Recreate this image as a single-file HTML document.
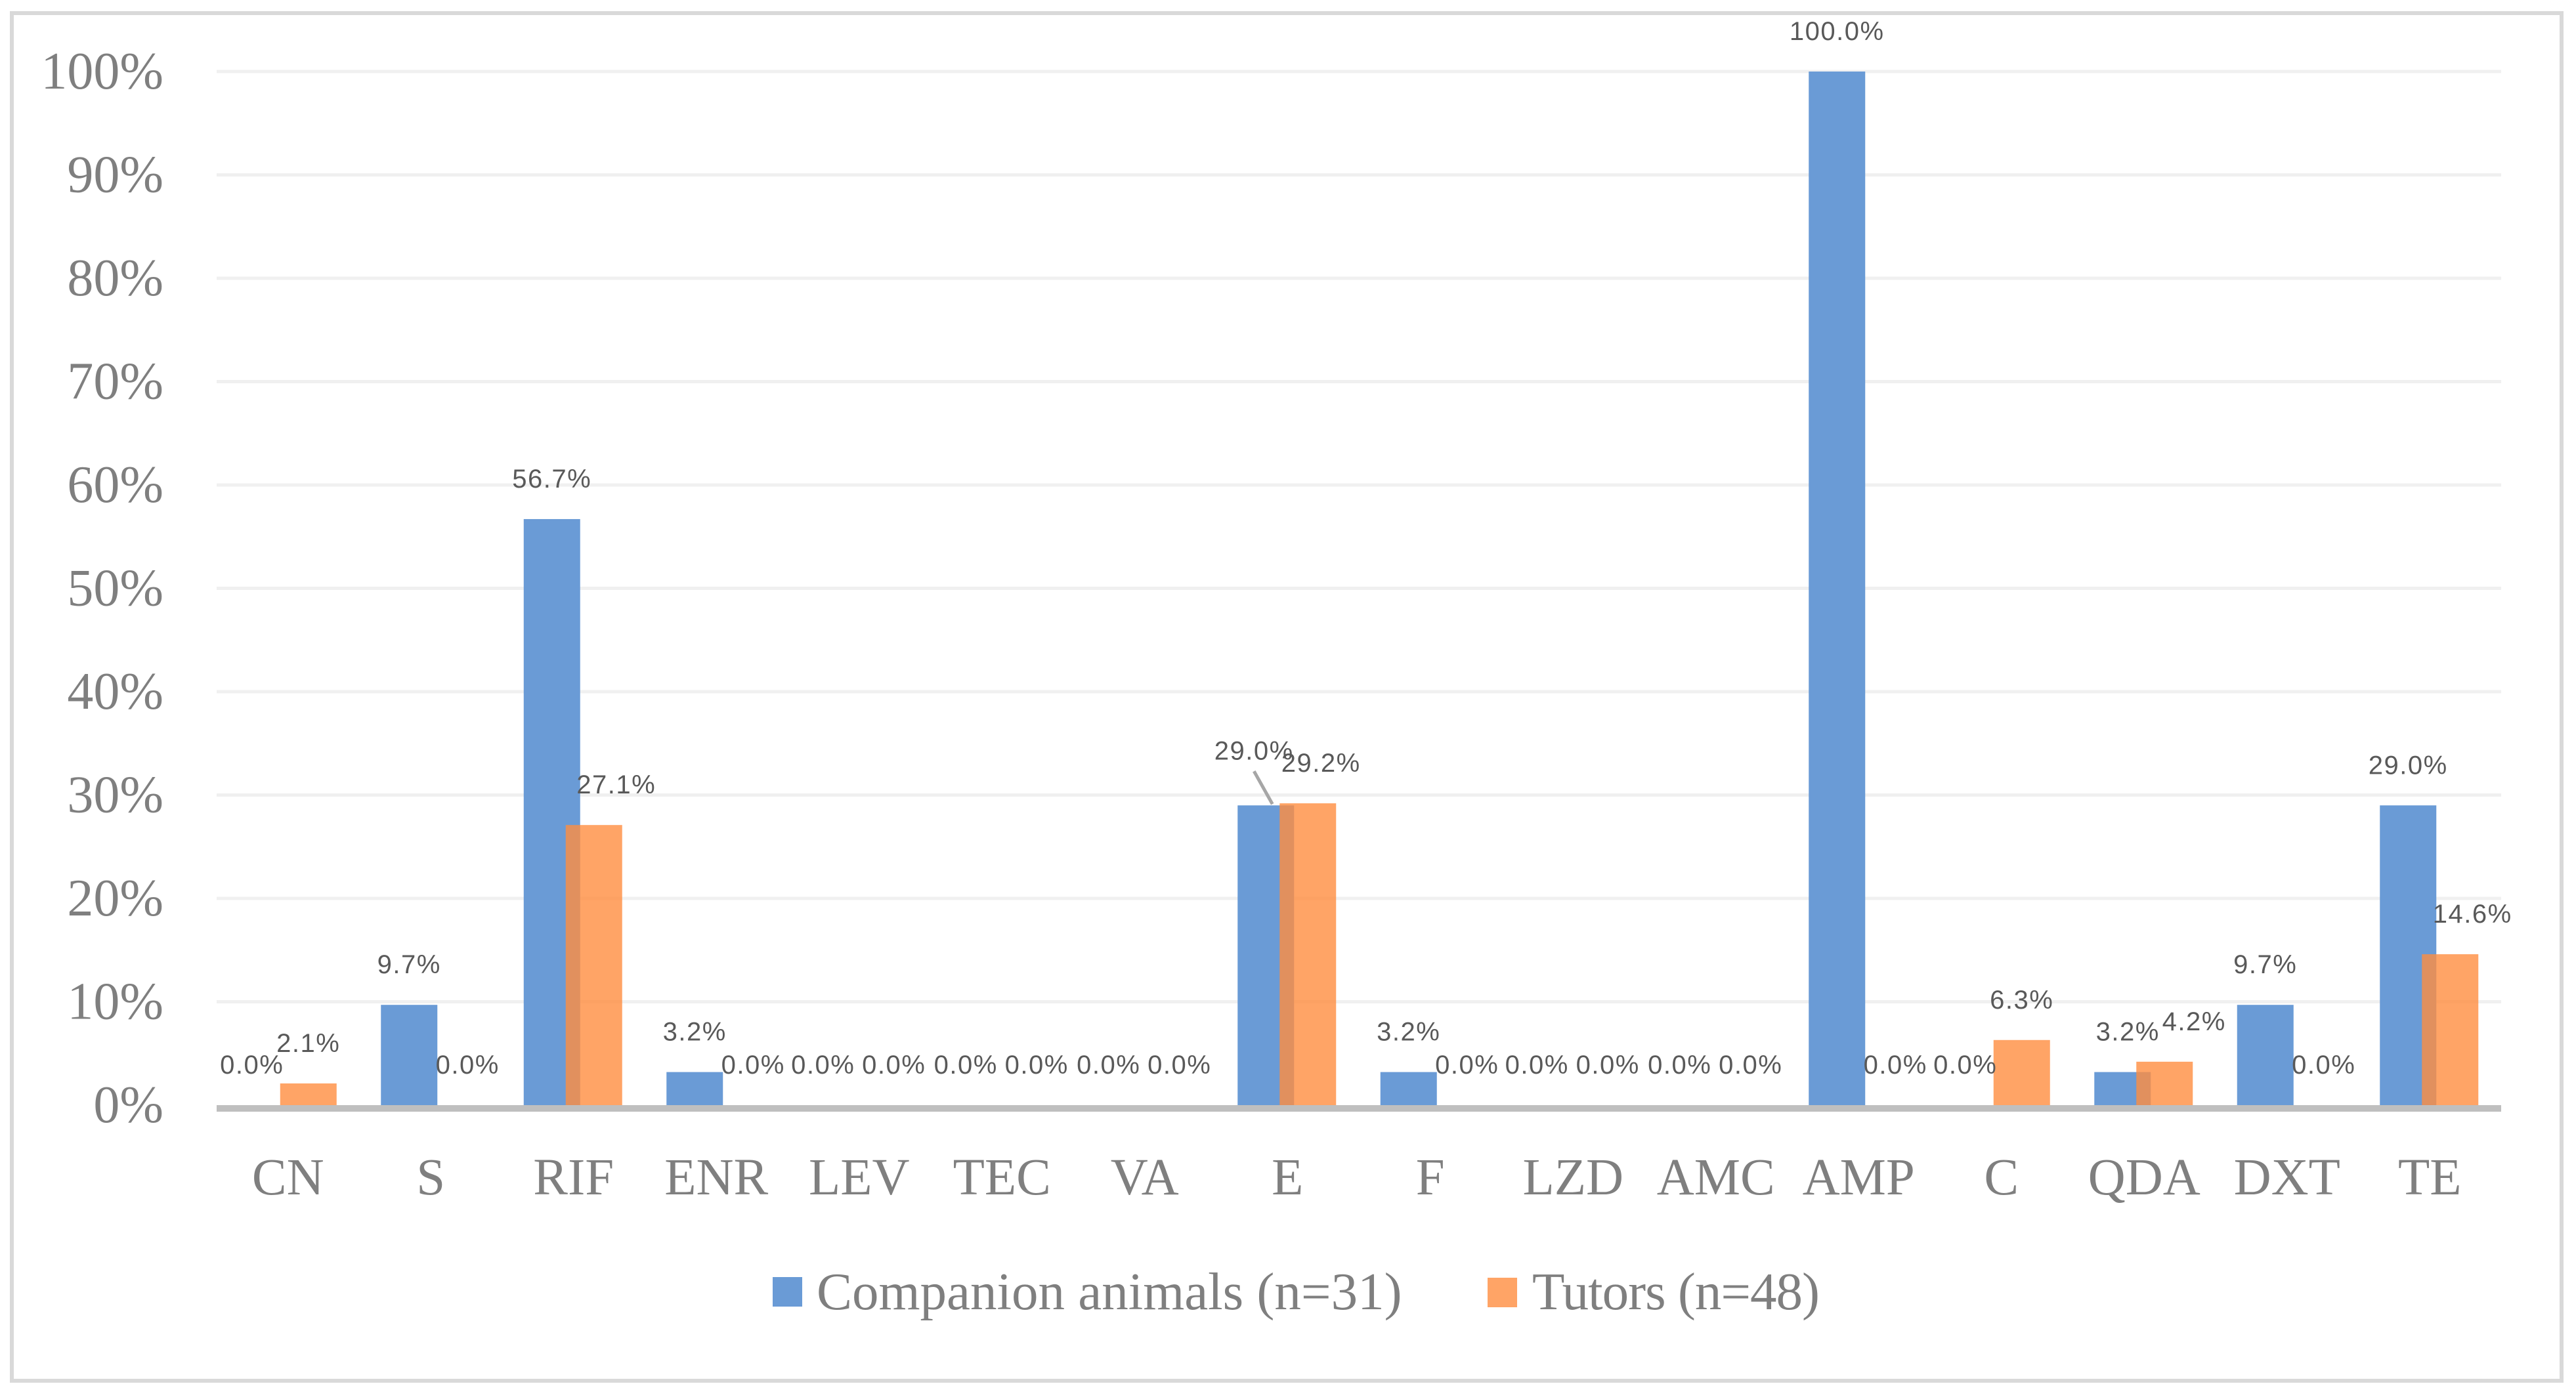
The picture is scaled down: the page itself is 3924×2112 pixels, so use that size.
<!DOCTYPE html>
<html><head><meta charset="utf-8"><style>
html,body{margin:0;padding:0;background:#fff;}
svg{display:block;}
</style></head><body>
<svg id="chart" width="3924" height="2112" viewBox="0 0 3924 2112" xmlns="http://www.w3.org/2000/svg">
<rect x="18" y="20" width="3884" height="2084" fill="#fff" stroke="#d9d9d9" stroke-width="6"/>
<g id="grid"></g>
<g id="yticks"></g>
<g id="bars"></g>
<line x1="330" y1="1689" x2="3810" y2="1689" stroke="#bfbfbf" stroke-width="10"/>
<g id="labels"></g>
<g id="xcats"></g>
<g font-family="Liberation Serif, serif" font-size="81" fill="#7f7f7f">
  <rect x="1177" y="1946" width="45" height="45" fill="#6a9bd6"/>
  <text x="1244" y="1995">Companion animals (n=31)</text>
  <rect x="2266" y="1947" width="45" height="45" fill="#ffa466"/>
  <text x="2334" y="1995" textLength="438">Tutors (n=48)</text>
</g>
</svg>
<script>
const categories = ["CN","S","RIF","ENR","LEV","TEC","VA","E","F","LZD","AMC","AMP","C","QDA","DXT","TE"];
const companionValues = [0,9.7,56.7,3.2,0,0,0,29.0,3.2,0,0,100,0,3.2,9.7,29.0];
const tutorValues = [2.1,0,27.1,0,0,0,0,29.2,0,0,0,0,6.3,4.2,0,14.6];
const yTicks = [0,10,20,30,40,50,60,70,80,90,100];

const NS = "http://www.w3.org/2000/svg";
const plotL = 330, plotR = 3810, y0 = 1684, y100 = 109;
const band = (plotR - plotL) / categories.length;
function yScale(v){ return y0 - (v/100)*(y0 - y100); }
function xCenter(i){ return plotL + band*(i+0.5); }
function mk(tag, attrs, parent){ const e=document.createElementNS(NS,tag); for(const k in attrs) e.setAttribute(k, attrs[k]); parent.appendChild(e); return e; }

const grid=document.getElementById('grid'), yt=document.getElementById('yticks'),
 bars=document.getElementById('bars'), labels=document.getElementById('labels'), xc=document.getElementById('xcats');

yTicks.forEach(t=>{
  const y=yScale(t);
  if(t>0){
    const l=mk('line',{x1:plotL,x2:plotR,y1:y,y2:y,stroke:'#f0f0f0','stroke-width':5},grid);
    
    
  }
  const tx=mk('text',{x:249,y:y+26,'text-anchor':'end','font-family':'Liberation Serif, serif','font-size':80,fill:'#7f7f7f'},yt);
  tx.textContent=t+'%';
  
  
});

const bw=86;
const lblAttrs={'text-anchor':'middle','font-family':'Liberation Sans, sans-serif','font-size':40,'letter-spacing':1.5,fill:'#595959'};
categories.forEach((c,i)=>{
  const cx=xCenter(i);
  const bx=cx-76, ox=cx-12;
  const bv=companionValues[i], ov=tutorValues[i];
  const b=mk('rect',{x:bx,y:yScale(bv),width:bw,height:y0-yScale(bv),fill:'#6a9bd6'},bars);
  
  
  const o=mk('rect',{x:ox,y:yScale(ov),width:bw,height:y0-yScale(ov),fill:'#ff8d40','fill-opacity':0.8},bars);
  
  

  let blx=bx+bw/2, bly=yScale(bv)-48;
  let olx=ox+bw/2, oly=yScale(ov)-48;
  if(bv>0 && ov>0 && Math.abs(bv-ov)<0.5){
    blx=bx+bw/2-18; bly=yScale(bv)-70;
    const ll=mk('line',{x1:blx,y1:bly+18,x2:blx+28,y2:yScale(bv)-2,stroke:'#a6a6a6','stroke-width':5},labels);
    
    
    olx+=20;
  } else if(ov>0 && bv>ov){ olx+=34; }
  else if(ov>bv && bv>0){ olx+=45; blx+=8; }
  else if(ov===0 && bv>0){ olx+=25; }
  if(bv===0){ blx-=22; }
  if(ov===0 && bv===0){ olx+=22; }
  const tb=mk('text',Object.assign({x:blx,y:bly},lblAttrs),labels);
  tb.textContent=bv.toFixed(1)+'%';
  
  
  const to=mk('text',Object.assign({x:olx,y:oly},lblAttrs),labels);
  to.textContent=ov.toFixed(1)+'%';
  
  

  const xt=mk('text',{x:cx,y:1820,'text-anchor':'middle','font-family':'Liberation Serif, serif','font-size':79,fill:'#7f7f7f'},xc);
  xt.textContent=c;
  
  
});
</script>
</body></html>
